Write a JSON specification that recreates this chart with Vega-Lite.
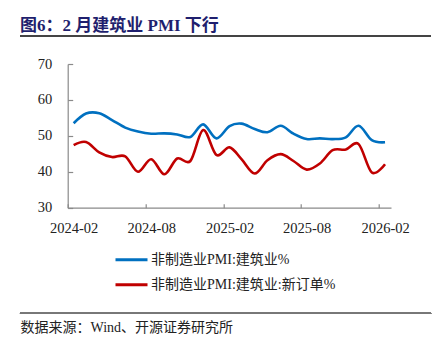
{
  "$schema": "https://vega.github.io/schema/vega-lite/v6.json",
  "width": 323.3,
  "height": 143.7,
  "autosize": {"type": "none"},
  "padding": {"left": 67.7, "top": 64, "right": 56, "bottom": 131.3},
  "background": "white",
  "title": {
    "text": "图6：2 月建筑业 PMI 下行",
    "anchor": "start",
    "frame": "group",
    "dx": -47.7,
    "dy": 3,
    "offset": 3,
    "font": "Liberation Serif, Noto Sans CJK SC",
    "fontSize": 17,
    "fontWeight": "bold",
    "color": "#1F1F6E"
  },
  "config": {
    "view": {"stroke": null},
    "axis": {
      "labelFont": "Liberation Serif",
      "labelFontSize": 14.5,
      "labelColor": "#222222",
      "domainColor": "#8a8a8a",
      "tickColor": "#8a8a8a",
      "domainWidth": 1.2,
      "tickWidth": 1.2,
      "grid": false,
      "labelOverlap": false
    }
  },
  "resolve": {"scale": {"x": "independent", "y": "independent"}},
  "data": {
    "values": [
      {"date": "2024-02-15", "series": "非制造业PMI:建筑业%", "value": 53.5},
      {"date": "2024-03-15", "series": "非制造业PMI:建筑业%", "value": 56.2},
      {"date": "2024-04-15", "series": "非制造业PMI:建筑业%", "value": 56.3},
      {"date": "2024-05-15", "series": "非制造业PMI:建筑业%", "value": 54.4},
      {"date": "2024-06-15", "series": "非制造业PMI:建筑业%", "value": 52.3},
      {"date": "2024-07-15", "series": "非制造业PMI:建筑业%", "value": 51.2},
      {"date": "2024-08-15", "series": "非制造业PMI:建筑业%", "value": 50.6},
      {"date": "2024-09-15", "series": "非制造业PMI:建筑业%", "value": 50.7},
      {"date": "2024-10-15", "series": "非制造业PMI:建筑业%", "value": 50.4},
      {"date": "2024-11-15", "series": "非制造业PMI:建筑业%", "value": 49.7},
      {"date": "2024-12-15", "series": "非制造业PMI:建筑业%", "value": 53.2},
      {"date": "2025-01-15", "series": "非制造业PMI:建筑业%", "value": 49.3},
      {"date": "2025-02-15", "series": "非制造业PMI:建筑业%", "value": 52.7},
      {"date": "2025-03-15", "series": "非制造业PMI:建筑业%", "value": 53.4},
      {"date": "2025-04-15", "series": "非制造业PMI:建筑业%", "value": 51.9},
      {"date": "2025-05-15", "series": "非制造业PMI:建筑业%", "value": 51.0},
      {"date": "2025-06-15", "series": "非制造业PMI:建筑业%", "value": 52.8},
      {"date": "2025-07-15", "series": "非制造业PMI:建筑业%", "value": 50.6},
      {"date": "2025-08-15", "series": "非制造业PMI:建筑业%", "value": 49.1},
      {"date": "2025-09-15", "series": "非制造业PMI:建筑业%", "value": 49.3},
      {"date": "2025-10-15", "series": "非制造业PMI:建筑业%", "value": 49.1},
      {"date": "2025-11-15", "series": "非制造业PMI:建筑业%", "value": 49.6},
      {"date": "2025-12-15", "series": "非制造业PMI:建筑业%", "value": 52.8},
      {"date": "2026-01-15", "series": "非制造业PMI:建筑业%", "value": 48.8},
      {"date": "2026-02-15", "series": "非制造业PMI:建筑业%", "value": 48.2},
      {"date": "2024-02-15", "series": "非制造业PMI:建筑业:新订单%", "value": 47.4},
      {"date": "2024-03-15", "series": "非制造业PMI:建筑业:新订单%", "value": 48.3},
      {"date": "2024-04-15", "series": "非制造业PMI:建筑业:新订单%", "value": 45.4},
      {"date": "2024-05-15", "series": "非制造业PMI:建筑业:新订单%", "value": 44.1},
      {"date": "2024-06-15", "series": "非制造业PMI:建筑业:新订单%", "value": 44.3},
      {"date": "2024-07-15", "series": "非制造业PMI:建筑业:新订单%", "value": 40.0},
      {"date": "2024-08-15", "series": "非制造业PMI:建筑业:新订单%", "value": 43.5},
      {"date": "2024-09-15", "series": "非制造业PMI:建筑业:新订单%", "value": 39.3},
      {"date": "2024-10-15", "series": "非制造业PMI:建筑业:新订单%", "value": 43.7},
      {"date": "2024-11-15", "series": "非制造业PMI:建筑业:新订单%", "value": 43.0},
      {"date": "2024-12-15", "series": "非制造业PMI:建筑业:新订单%", "value": 51.6},
      {"date": "2025-01-15", "series": "非制造业PMI:建筑业:新订单%", "value": 44.7},
      {"date": "2025-02-15", "series": "非制造业PMI:建筑业:新订单%", "value": 46.8},
      {"date": "2025-03-15", "series": "非制造业PMI:建筑业:新订单%", "value": 43.5},
      {"date": "2025-04-15", "series": "非制造业PMI:建筑业:新订单%", "value": 39.5},
      {"date": "2025-05-15", "series": "非制造业PMI:建筑业:新订单%", "value": 43.2},
      {"date": "2025-06-15", "series": "非制造业PMI:建筑业:新订单%", "value": 44.9},
      {"date": "2025-07-15", "series": "非制造业PMI:建筑业:新订单%", "value": 43.0},
      {"date": "2025-08-15", "series": "非制造业PMI:建筑业:新订单%", "value": 40.6},
      {"date": "2025-09-15", "series": "非制造业PMI:建筑业:新订单%", "value": 42.3},
      {"date": "2025-10-15", "series": "非制造业PMI:建筑业:新订单%", "value": 46.0},
      {"date": "2025-11-15", "series": "非制造业PMI:建筑业:新订单%", "value": 46.2},
      {"date": "2025-12-15", "series": "非制造业PMI:建筑业:新订单%", "value": 47.7},
      {"date": "2026-01-15", "series": "非制造业PMI:建筑业:新订单%", "value": 39.8},
      {"date": "2026-02-15", "series": "非制造业PMI:建筑业:新订单%", "value": 42.1}
    ]
  },
  "layer": [
    {
      "mark": {"type": "line", "interpolate": "cardinal", "strokeWidth": 2.6},
      "encoding": {
        "x": {
          "field": "date",
          "type": "temporal",
          "scale": {"domain": [{"year": 2024, "month": 2, "date": 1}, {"year": 2026, "month": 3, "date": 1}]},
          "axis": {
            "values": [{"year": 2024, "month": 2, "date": 1}, {"year": 2024, "month": 8, "date": 1}, {"year": 2025, "month": 2, "date": 1}, {"year": 2025, "month": 8, "date": 1}, {"year": 2026, "month": 2, "date": 1}],
            "format": "%Y-%m",
            "tickSize": -4,
            "labelPadding": 18,
            "labelOffset": 6,
            "labelFlush": false,
            "labelOverlap": false,
            "title": "数据来源：Wind、开源证券研究所",
            "titleFont": "Liberation Serif, Noto Sans CJK SC",
            "titleFontSize": 14,
            "titleFontWeight": "normal",
            "titleColor": "#222222",
            "titleAnchor": "start",
            "titleAlign": "left",
            "titleBaseline": "middle",
            "titleX": -47.7,
            "titleY": 120
          }
        },
        "y": {
          "field": "value",
          "type": "quantitative",
          "scale": {"domain": [30, 70], "nice": false, "zero": false},
          "axis": {
            "values": [30, 40, 50, 60, 70],
            "tickSize": -5,
            "labelPadding": 21,
            "labelOverlap": false,
            "labelSeparation": 0,
            "title": null
          }
        },
        "color": {
          "field": "series",
          "type": "nominal",
          "scale": {"domain": ["非制造业PMI:建筑业%", "非制造业PMI:建筑业:新订单%"], "range": ["#0070C0", "#C00000"]},
          "legend": {
            "orient": "none",
            "legendX": 54.3,
            "legendY": 186.3,
            "direction": "vertical",
            "title": null,
            "padding": 0,
            "symbolType": "M-2,0L2,0",
            "symbolSize": 256,
            "symbolStrokeWidth": 3,
            "rowPadding": 8,
            "labelOffset": 10,
            "labelFont": "Liberation Serif, Noto Sans CJK SC",
            "labelFontSize": 14,
            "labelColor": "#222222",
            "labelLimit": 300
          }
        }
      }
    },
    {
      "mark": {"type": "rule", "color": "#444444", "strokeWidth": 1.4},
      "encoding": {
        "x": {"datum": {"year": 2023, "month": 10, "date": 12}, "type": "temporal", "axis": null,
              "scale": {"domain": [{"year": 2024, "month": 2, "date": 1}, {"year": 2026, "month": 3, "date": 1}]}},
        "x2": {"datum": {"year": 2026, "month": 6, "date": 3}},
        "y": {"datum": 77.8, "type": "quantitative", "axis": null, "scale": {"domain": [30, 70], "nice": false, "zero": false}}
      }
    },
    {
      "mark": {"type": "rule", "color": "#777777", "strokeWidth": 1.2},
      "encoding": {
        "x": {"datum": {"year": 2023, "month": 10, "date": 12}, "type": "temporal", "axis": null,
              "scale": {"domain": [{"year": 2024, "month": 2, "date": 1}, {"year": 2026, "month": 3, "date": 1}]}},
        "x2": {"datum": {"year": 2026, "month": 6, "date": 3}},
        "y": {"datum": 0.6, "type": "quantitative", "axis": null, "scale": {"domain": [30, 70], "nice": false, "zero": false}}
      }
    }
  ]
}
